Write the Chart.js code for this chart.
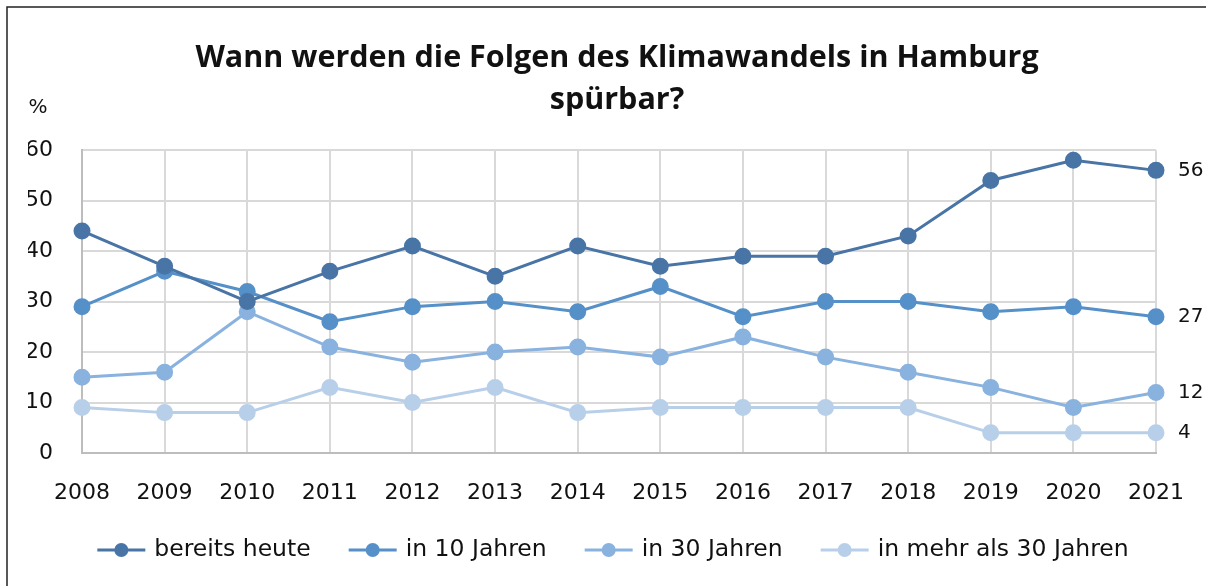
<!DOCTYPE html>
<html>
<head>
<meta charset="utf-8">
<script src="https://cdn.jsdelivr.net/npm/chart.js@4/dist/chart.umd.min.js"></script>
<style>
  html, body { margin: 0; padding: 0; background: #fff; }
  canvas { display: block; }
</style>
</head>
<body>
<canvas id="chart" width="1206" height="586"></canvas>
<script>
'use strict';

const years = ['2008', '2009', '2010', '2011', '2012', '2013', '2014', '2015', '2016', '2017', '2018', '2019', '2020', '2021'];
const bereitsHeute = [44, 37, 30, 36, 41, 35, 41, 37, 39, 39, 43, 54, 58, 56];
const in10Jahren = [29, 36, 32, 26, 29, 30, 28, 33, 27, 30, 30, 28, 29, 27];
const in30Jahren = [15, 16, 28, 21, 18, 20, 21, 19, 23, 19, 16, 13, 9, 12];
const inMehrAls30 = [9, 8, 8, 13, 10, 13, 8, 9, 9, 9, 9, 4, 4, 4];
const seriesNames = ['bereits heute', 'in 10 Jahren', 'in 30 Jahren', 'in mehr als 30 Jahren'];
const titleLines = ['Wann werden die Folgen des Klimawandels in Hamburg', 'spürbar?'];

const FONT = '"DejaVu Sans", sans-serif';
const TITLE_FONT = '"Open Sans", sans-serif';
const colors = ['#4874a6', '#5590c8', '#89b2df', '#b8cfe9'];

let canvasElem = document.getElementById('chart');

function makeSet(label, data, color) {
  return {
    label: label,
    data: data,
    borderColor: color,
    backgroundColor: color,
    pointBackgroundColor: color,
    pointBorderColor: color,
    borderWidth: 3,
    pointRadius: 7,
    pointHoverRadius: 7,
    tension: 0
  };
}

// frame, % label, end values and line-style legend
const extras = {
  id: 'extras',
  afterDraw(chart) {
    const ctx = chart.ctx;
    const y = chart.scales.y;
    ctx.save();
    ctx.strokeStyle = '#222';
    ctx.lineWidth = 1.5;
    ctx.beginPath();
    ctx.moveTo(7, 586);
    ctx.lineTo(7, 7);
    ctx.lineTo(1206, 7);
    ctx.stroke();

    ctx.fillStyle = '#111';
    ctx.font = '20px ' + FONT;
    ctx.textAlign = 'center';
    ctx.textBaseline = 'middle';
    ctx.fillText('%', 38, 108);

    ctx.textAlign = 'left';
    chart.data.datasets.forEach(ds => {
      const last = ds.data[ds.data.length - 1];
      ctx.fillText(String(last), 1178, y.getPixelForValue(last));
    });

    // legend
    ctx.font = '23.5px ' + FONT;
    const sample = 48, gap = 9, itemGap = 38;
    const widths = chart.data.datasets.map(ds => sample + gap + ctx.measureText(ds.label).width);
    const total = widths.reduce((a, b) => a + b, 0) + itemGap * (widths.length - 1);
    let x = 613 - total / 2;
    const ly = 550;
    chart.data.datasets.forEach((ds, i) => {
      ctx.strokeStyle = ds.borderColor;
      ctx.lineWidth = 3;
      ctx.beginPath();
      ctx.moveTo(x, ly);
      ctx.lineTo(x + sample, ly);
      ctx.stroke();
      ctx.fillStyle = ds.borderColor;
      ctx.beginPath();
      ctx.arc(x + sample / 2, ly, 7, 0, Math.PI * 2);
      ctx.fill();
      ctx.fillStyle = '#111';
      ctx.fillText(ds.label, x + sample + gap, ly);
      x += widths[i] + itemGap;
    });
    ctx.restore();
  }
};

function renderChart() {
  const chartData = {
    labels: years,
    datasets: [
      makeSet(seriesNames[0], bereitsHeute, colors[0]),
      makeSet(seriesNames[1], in10Jahren, colors[1]),
      makeSet(seriesNames[2], in30Jahren, colors[2]),
      makeSet(seriesNames[3], inMehrAls30, colors[3])
    ]
  };

  const config = {
    type: 'line',
    data: chartData,
    options: {
      responsive: false,
      animation: false,
      layout: { padding: { left: 28, right: 0, top: 0, bottom: 73 } },
      plugins: {
        legend: { display: false },
        tooltip: { enabled: false },
        title: {
          display: true,
          text: titleLines,
          color: '#111',
          font: { family: TITLE_FONT, size: 30.5, weight: 'bold', lineHeight: 1.38 },
          padding: { top: 37, bottom: 29 }
        }
      },
      scales: {
        x: {
          offset: false,
          afterFit(scale) {
            scale.height = 60;
            scale.paddingLeft = 0;
            scale.paddingRight = 0;
          },
          grid: {
            color: ctx => ctx.index === 0 ? '#bdbdbd' : '#d9d9d9',
            lineWidth: 2,
            drawTicks: false
          },
          border: { color: '#bdbdbd', width: 2 },
          ticks: { color: '#111', font: { family: FONT, size: 22 }, padding: 27, maxRotation: 0 }
        },
        y: {
          min: 0,
          max: 60,
          afterFit(scale) { scale.width = 54; },
          grid: { color: '#d9d9d9', lineWidth: 2, drawTicks: false },
          border: { color: '#bdbdbd', width: 2 },
          ticks: { stepSize: 10, color: '#111', font: { family: FONT, size: 22 }, padding: 29 }
        },
        // empty right-hand strip, keeps room for the end values
        yRight: {
          position: 'right',
          min: 0,
          max: 60,
          afterFit(scale) { scale.width = 50; },
          grid: { display: false },
          border: { display: false },
          ticks: { display: false }
        }
      }
    },
    plugins: [extras]
  };

  new Chart(canvasElem, config);
}

renderChart();
</script>
</body>
</html>
